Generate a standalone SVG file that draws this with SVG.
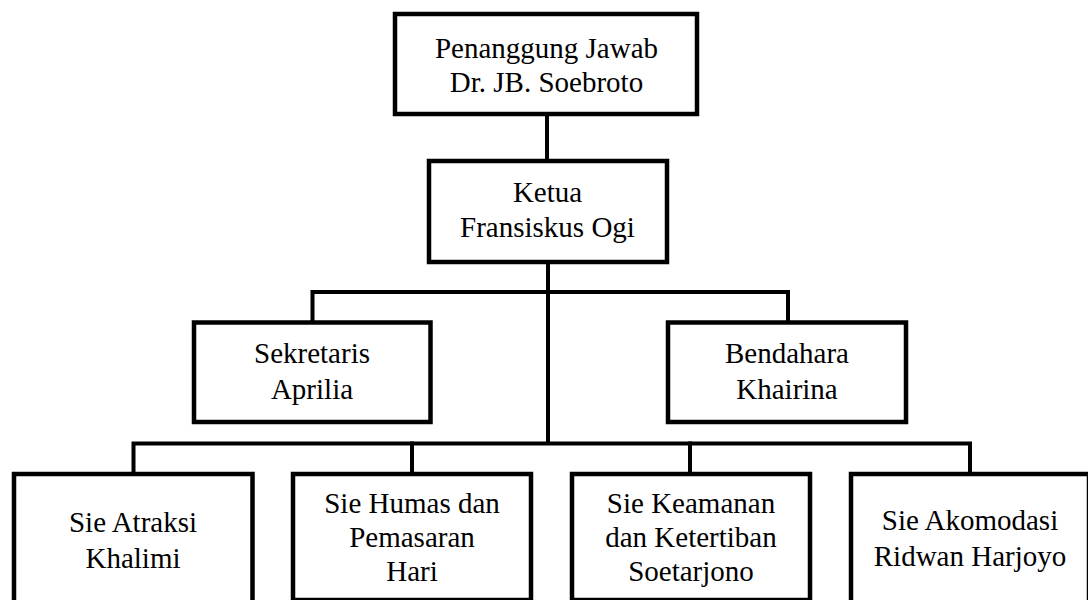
<svg xmlns="http://www.w3.org/2000/svg" width="1088" height="600" viewBox="0 0 1088 600">
<style>
.box{fill:#fff;stroke:#000;stroke-width:4.5}
.ln{fill:none;stroke:#000;stroke-width:4;stroke-linecap:square;stroke-linejoin:miter}
.t{font-family:'Liberation Serif','Times New Roman','DejaVu Serif',serif;font-size:29px;fill:#000;text-anchor:middle}
</style>
<rect width="1088" height="600" fill="#fff"/>
<g id="connectors">
<path class="ln" d="M547,114 V161"/>
<path class="ln" d="M548,262 V443"/>
<path class="ln" d="M312.5,322 V292 H788 V322"/>
<path class="ln" d="M133.5,474 V443.5 H970 V474"/>
<path class="ln" d="M412,443.5 V474"/>
<path class="ln" d="M690,443.5 V474"/>
</g>
<g id="penanggung">
<rect class="box" x="395" y="14" width="302" height="100"/>
<text class="t" x="546.5" y="58">Penanggung Jawab</text>
<text class="t" x="546.5" y="92">Dr. JB. Soebroto</text>
</g>
<g id="ketua">
<rect class="box" x="429" y="161" width="238" height="101"/>
<text class="t" x="547.5" y="202">Ketua</text>
<text class="t" x="547.5" y="237">Fransiskus Ogi</text>
</g>
<g id="sekretaris">
<rect class="box" x="194" y="322.5" width="236.5" height="99.5"/>
<text class="t" x="312" y="363">Sekretaris</text>
<text class="t" x="312" y="399">Aprilia</text>
</g>
<g id="bendahara">
<rect class="box" x="668" y="322.5" width="238" height="99.5"/>
<text class="t" x="787" y="363">Bendahara</text>
<text class="t" x="787" y="399">Khairina</text>
</g>
<g id="atraksi">
<rect class="box" x="14" y="474" width="238.5" height="132"/>
<text class="t" x="133" y="532">Sie Atraksi</text>
<text class="t" x="133" y="568">Khalimi</text>
</g>
<g id="humas">
<rect class="box" x="293" y="474" width="238" height="126"/>
<text class="t" x="412" y="513">Sie Humas dan</text>
<text class="t" x="412" y="547">Pemasaran</text>
<text class="t" x="412" y="581">Hari</text>
</g>
<g id="keamanan">
<rect class="box" x="572" y="474" width="238" height="126"/>
<text class="t" x="691" y="513">Sie Keamanan</text>
<text class="t" x="691" y="547">dan Ketertiban</text>
<text class="t" x="691" y="581">Soetarjono</text>
</g>
<g id="akomodasi">
<rect class="box" x="851" y="474" width="238" height="132"/>
<text class="t" x="970" y="530">Sie Akomodasi</text>
<text class="t" x="970" y="566">Ridwan Harjoyo</text>
</g>
</svg>
